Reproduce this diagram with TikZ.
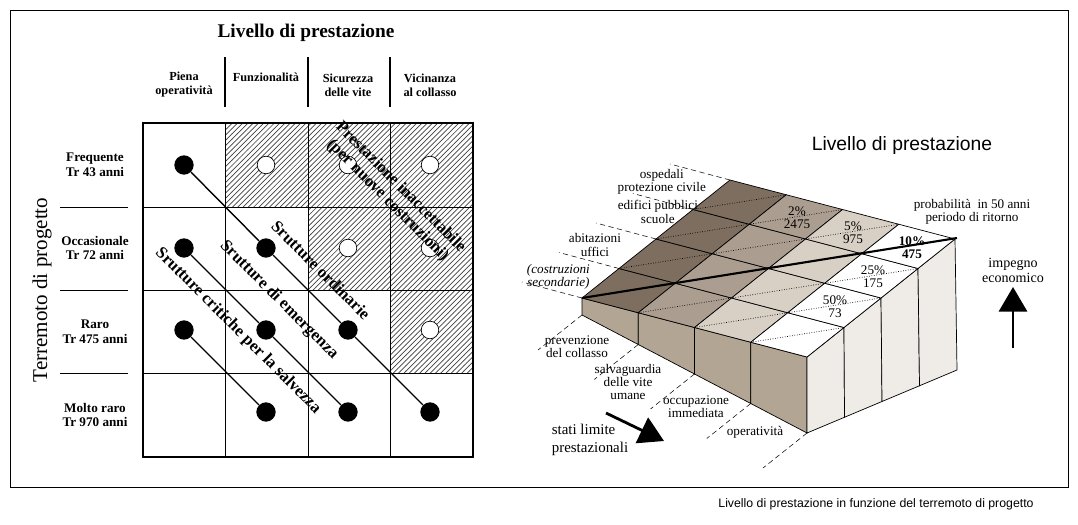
\documentclass[tikz,border=0pt]{standalone}
\usepackage{fontspec}
\setmainfont{Liberation Serif}
\newfontfamily\capfont{Liberation Sans}
\usetikzlibrary{patterns,arrows.meta}
\definecolor{darkcell}{HTML}{7D6E60}
\definecolor{midcell}{HTML}{AB9D8F}
\definecolor{lightcell}{HTML}{D8CFC5}
\definecolor{frontface}{HTML}{B3A594}
\definecolor{sideface}{HTML}{EFEBE7}
\tikzset{
  hdr/.style={font=\bfseries\fontsize{7}{8}\selectfont, align=center},
  rowlbl/.style={font=\bfseries\fontsize{7.5}{8.5}\selectfont, align=center},
  diag/.style={font=\bfseries\fontsize{9.5}{10.5}\selectfont, rotate=-45, align=center, inner sep=0pt},
  lbl/.style={font=\fontsize{7.5}{7.5}\selectfont, align=center, inner sep=1pt},
  dot/.style={circle, fill=black, inner sep=0pt, minimum size=11pt},
  odot/.style={circle, draw=black, fill=white, inner sep=0pt, minimum size=10pt},
  hatch/.style={pattern=north east lines, pattern color=black!75},
  bigarrow/.style={line width=1.6pt, -{Triangle[width=16pt,length=14pt]}},
}
\begin{document}
\begin{tikzpicture}[x=0.02cm, y=-0.02cm]

    % frame
    \draw [line width=0.5pt] (10,10) rectangle (1068,487);
    \path (0,0) (1078,524);
    \node (caption) [font=\capfont\fontsize{7}{8}\selectfont] at (876,504) {Livello di prestazione in funzione del terremoto di progetto};

    % left: headers
    \node (ltitle) [font=\bfseries\fontsize{11}{12}\selectfont] at (306,33) {Livello di prestazione};
    \node (h1) [hdr] at (184,85) {Piena\\operatività};
    \node (h2) [hdr] at (266,77) {Funzionalità};
    \node (h3) [hdr] at (348,85) {Sicurezza\\delle vite};
    \node (h4) [hdr] at (430,85) {Vicinanza\\al collasso};
    \foreach \x in {225,308,390} \draw [line width=1pt] (\x,57) -- (\x,107);

    % left: rows
    \node (ytitle) [font=\fontsize{12}{13}\selectfont, rotate=90] at (42,290) {Terremoto di progetto};
    \node (r1) [rowlbl] at (95,165) {Frequente\\Tr 43 anni};
    \node (r2) [rowlbl] at (95,248) {Occasionale\\Tr 72 anni};
    \node (r3) [rowlbl] at (95,332) {Raro\\Tr 475 anni};
    \node (r4) [rowlbl] at (95,415) {Molto raro\\Tr 970 anni};
    \foreach \y in {207,290,373} \draw (60,\y) -- (128,\y);

    % hatched cells
    \fill [hatch] (225,123) rectangle (473,207);
    \fill [hatch] (308,207) rectangle (473,290);
    \fill [hatch] (390,290) rectangle (473,373);

    % grid
    \foreach \x in {225,308,390} \draw (\x,123) -- (\x,457);
    \foreach \y in {207,290,373} \draw (143,\y) -- (473,\y);
    \draw [line width=1.2pt] (143,123) rectangle (473,457);

    % open circles
    \foreach \c/\r [count=\i] in {266/165,348/165,430/165,348/248,430/248,430/330}
      \node (o\i) [odot] at (\c,\r) {};

    % filled dots and lines
    \node (d11) [dot] at (184,165) {};
    \node (d21) [dot] at (184,248) {};
    \node (d22) [dot] at (266,248) {};
    \node (d31) [dot] at (184,330) {};
    \node (d32) [dot] at (266,330) {};
    \node (d33) [dot] at (348,330) {};
    \node (d42) [dot] at (266,412) {};
    \node (d43) [dot] at (348,412) {};
    \node (d44) [dot] at (430,412) {};
    \draw [line width=0.8pt] (d11) -- (d22) -- (d33) -- (d44);
    \draw [line width=0.8pt] (d21) -- (d32) -- (d43);
    \draw [line width=0.8pt] (d31) -- (d42);

    % diagonal labels
    \node (inacc) [diag] at (394,194) {Prestazione inaccettabile\\(per nuove costruzioni)};
    \node (ord) [diag] at (321,270) {Srutture ordinarie};
    \node (emer) [diag] at (279,300) {Srutture di emergenza};
    \node (crit) [diag] at (238,331) {Srutture critiche per la salvezza};

    % right: block
    \node (rtitle) [font=\capfont\fontsize{11}{12}\selectfont] at (902,146) {Livello di prestazione};
    % front face
    \foreach \u in {0,0.25,0.5,0.75}
      \draw [fill=frontface] (582+225*\u,298+59*\u) -- (638.25+225*\u,312.75+59*\u)
        -- (638.25+225*\u,344.5+118*\u) -- (582+225*\u,315+118*\u) -- cycle;
    % side face
    \foreach \v in {0,0.25,0.5,0.75}
      \draw [fill=sideface] (807+148*\v,357-118*\v) -- (844+148*\v,327.5-118*\v)
        -- (844.5+150*\v,417.25-63*\v) -- (807+150*\v,433-63*\v) -- cycle;
    % top cells
    \foreach \u/\col in {0/darkcell,0.25/midcell,0.5/lightcell,0.75/white}
      \foreach \v in {0,0.25,0.5,0.75}
        \draw [fill=\col] (582+225*\u+148*\v,298+59*\u-118*\v)
          -- ++(56.25,14.75) -- ++(37,-29.5) -- ++(-56.25,-14.75) -- cycle;
    % dotted lines
    \foreach \k in {0.25,0.5,0.75} {
      \draw [densely dotted] (582+148*\k,298-118*\k) -- ({730+225*(1-\k)},{180+59*(1-\k)});
      \draw [densely dotted] (582+225*\k,298+59*\k) -- ({807+148*(1-\k)},{357-118*(1-\k)});
    }
    \draw [line width=1.2pt] (582,298) -- (957,238);

    % leaders
    \foreach \v in {0,0.25,0.5,0.75,1}
      \draw [densely dashed, line width=0.3pt] (582+148*\v,298-118*\v) -- ++(-60,-16);
    \foreach \u in {0,0.25,0.5,0.75,1}
      \draw [densely dashed, line width=0.3pt] (582+225*\u,315+118*\u) -- ++(-44,35);

    % right labels
    \node (l4) [lbl, anchor=east] at (708,182) {ospedali\\protezione civile};
    \node (l3) [lbl, anchor=east] at (700,212) {edifici pubblici\\scuole};
    \node (l2) [lbl, anchor=east] at (623,245) {abitazioni\\uffici};
    \node (l1) [lbl, anchor=east, font=\itshape\fontsize{7.5}{7.5}\selectfont] at (592,277) {(costruzioni\\secondarie)};
    \node (s1) [lbl] at (577,347) {prevenzione\\del collasso};
    \node (s2) [lbl] at (628,382) {salvaguardia\\delle vite\\umane};
    \node (s3) [lbl] at (696,407) {occupazione\\immediata};
    \node (s4) [lbl] at (755,432) {operatività};
    \node (p1) [lbl] at (797,218) {2\%\\2475};
    \node (p2) [lbl] at (853,233) {5\%\\975};
    \node (p3) [lbl, font=\bfseries\fontsize{7.5}{7.5}\selectfont] at (912,248) {10\%\\475};
    \node (p4) [lbl] at (873,277) {25\%\\175};
    \node (p5) [lbl] at (835,307) {50\%\\73};
    \node (prob) [lbl] at (972,212) {probabilità\ \ in 50 anni\\periodo di ritorno};
    \node (imp) [lbl, font=\fontsize{8}{8.5}\selectfont] at (1013,270) {impegno\\economico};
    \node (stati) [lbl, font=\fontsize{8.5}{10}\selectfont, align=left] at (590,440) {stati limite\\prestazionali};

    % arrows
    \coordinate (a1s) at (606,413);
    \coordinate (a1e) at (664,441);
    \draw [bigarrow] (a1s) -- (a1e);
    \coordinate (a2s) at (1013,348);
    \coordinate (a2e) at (1013,287);
    \draw [bigarrow] (a2s) -- (a2e);

\end{tikzpicture}
\end{document}
